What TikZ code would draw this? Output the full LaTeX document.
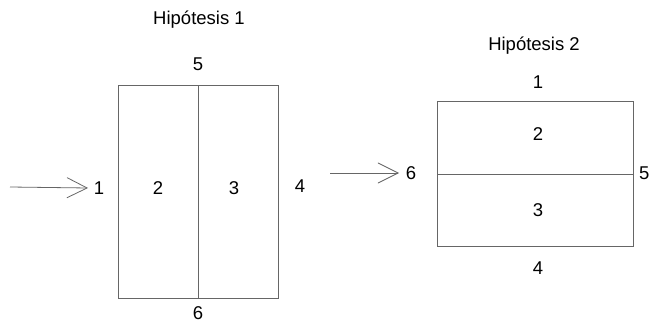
\documentclass[tikz,border=0pt]{standalone}
\usepackage{fontspec}
\setmainfont{Liberation Sans}
\usetikzlibrary{arrows.meta}
\begin{document}
\begin{tikzpicture}[x=1pt,y=-1pt,
  lbl/.style={inner sep=0pt,font=\fontsize{18.5}{22}\selectfont},
  cell/.style={draw=black!60,line width=0.9pt,inner sep=0pt},
  arr/.style={draw=black!60,line width=0.8pt,-{Straight Barb[length=20pt,width=20pt,line cap=round]}}]
\useasboundingbox (0,0) rectangle (650,323);
% Hypothesis 1
\node[lbl] (t1) at (199,20) {Hipótesis 1};
\node[cell,minimum width=80pt,minimum height=213pt] (a2) at (158,191.5) {};
\node[cell,minimum width=80pt,minimum height=213pt] (a3) at (238,191.5) {};
\node[lbl] (n2) at (158,188) {2};
\node[lbl] (n3) at (234,188) {3};
\node[lbl] (n5) at (198,64) {5};
\node[lbl] (n6) at (198,313) {6};
\node[lbl] (n4) at (300,186) {4};
\node[lbl] (n1) at (99,188) {1};
\coordinate (s1) at (10,187);
\draw[arr] (s1) -- (n1.west -| 88,0);
% Hypothesis 2
\node[lbl] (t2) at (534,46) {Hipótesis 2};
\node[cell,minimum width=196pt,minimum height=73pt] (b2) at (535,137.5) {};
\node[cell,minimum width=196pt,minimum height=72pt] (b3) at (535,210) {};
\node[lbl] (m1) at (538,82) {1};
\node[lbl] (m2) at (538,134) {2};
\node[lbl] (m3) at (538,210) {3};
\node[lbl] (m4) at (538,268) {4};
\node[lbl,anchor=west] (m5) at (639,173) {5};
\node[lbl] (m6) at (411,173) {6};
\coordinate (s2) at (330,173);
\draw[arr] (s2) -- (m6.west -| 399,0);
\end{tikzpicture}
\end{document}
